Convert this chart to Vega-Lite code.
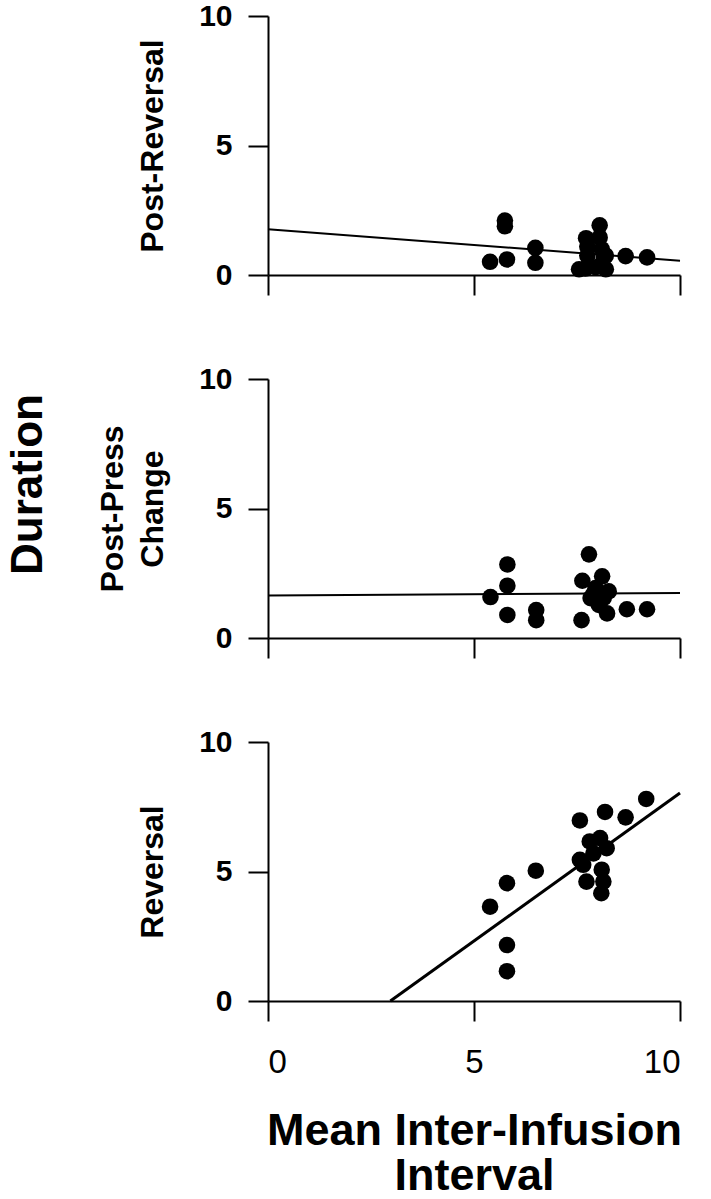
{
  "$schema": "https://vega.github.io/schema/vega-lite/v6.json",
  "background": "white",
  "padding": {"left": 6, "top": 1, "right": 5, "bottom": 3},
  "title": {"text": "Duration", "orient": "left", "anchor": "middle", "fontSize": 44, "fontWeight": "bold", "font": "Liberation Sans", "color": "black", "offset": 46, "dx": 115},
  "datasets": {
    "top_pts": [
      {"x": 5.39, "y": 0.51}, {"x": 5.8, "y": 0.6}, {"x": 5.75, "y": 2.1}, {"x": 5.75, "y": 1.88},
      {"x": 6.49, "y": 1.05}, {"x": 6.49, "y": 0.47}, {"x": 7.55, "y": 0.22}, {"x": 7.7, "y": 0.25},
      {"x": 7.75, "y": 1.1}, {"x": 7.72, "y": 1.42}, {"x": 7.75, "y": 0.75}, {"x": 7.95, "y": 0.3},
      {"x": 8.05, "y": 1.92}, {"x": 8.05, "y": 1.45}, {"x": 8.1, "y": 1.0}, {"x": 8.15, "y": 0.65},
      {"x": 8.2, "y": 0.22}, {"x": 8.2, "y": 0.75}, {"x": 8.68, "y": 0.73}, {"x": 9.2, "y": 0.68}
    ],
    "top_line": [{"x": 0, "y": 1.77}, {"x": 10, "y": 0.55}],
    "mid_pts": [
      {"x": 5.4, "y": 1.58}, {"x": 5.81, "y": 2.84}, {"x": 5.81, "y": 2.02}, {"x": 5.81, "y": 0.89},
      {"x": 6.51, "y": 1.08}, {"x": 6.51, "y": 0.69}, {"x": 7.61, "y": 0.69}, {"x": 7.79, "y": 3.23},
      {"x": 7.63, "y": 2.21}, {"x": 8.11, "y": 2.38}, {"x": 7.95, "y": 1.93}, {"x": 7.83, "y": 1.54},
      {"x": 8.27, "y": 1.8}, {"x": 8.03, "y": 1.28}, {"x": 8.23, "y": 0.95}, {"x": 7.9, "y": 1.7},
      {"x": 8.15, "y": 1.55}, {"x": 8.71, "y": 1.11}, {"x": 9.2, "y": 1.11}
    ],
    "mid_line": [{"x": 0, "y": 1.64}, {"x": 10, "y": 1.74}],
    "bot_pts": [
      {"x": 5.39, "y": 3.64}, {"x": 5.8, "y": 4.55}, {"x": 6.5, "y": 5.03}, {"x": 5.8, "y": 2.16},
      {"x": 5.8, "y": 1.15}, {"x": 7.57, "y": 6.97}, {"x": 8.18, "y": 7.3}, {"x": 8.68, "y": 7.09},
      {"x": 9.18, "y": 7.8}, {"x": 7.81, "y": 6.16}, {"x": 8.06, "y": 6.29}, {"x": 8.22, "y": 5.9},
      {"x": 7.57, "y": 5.45}, {"x": 8.1, "y": 5.07}, {"x": 7.65, "y": 5.26}, {"x": 7.73, "y": 4.61},
      {"x": 8.14, "y": 4.61}, {"x": 8.09, "y": 4.16}, {"x": 7.9, "y": 5.7}
    ],
    "bot_line": [{"x": 2.97, "y": 0}, {"x": 10, "y": 8.03}]
  },
  "spacing": 104,
  "bounds": "flush",
  "vconcat": [
    {
      "width": 412, "height": 259,
      "encoding": {
        "x": {"field": "x", "type": "quantitative", "scale": {"domain": [0, 10], "nice": false}, "axis": {"values": [0, 5, 10], "labels": false, "title": null}},
        "y": {"field": "y", "type": "quantitative", "scale": {"domain": [0, 10], "nice": false}, "axis": {"values": [0, 5, 10], "title": "Post-Reversal"}}
      },
      "layer": [
        {"data": {"name": "top_line"}, "mark": {"type": "line", "color": "black", "strokeWidth": 2}},
        {"data": {"name": "top_pts"}, "mark": {"type": "circle", "color": "black", "opacity": 1, "size": 275}}
      ]
    },
    {
      "width": 412, "height": 259,
      "encoding": {
        "x": {"field": "x", "type": "quantitative", "scale": {"domain": [0, 10], "nice": false}, "axis": {"values": [0, 5, 10], "labels": false, "title": null}},
        "y": {"field": "y", "type": "quantitative", "scale": {"domain": [0, 10], "nice": false}, "axis": {"values": [0, 5, 10], "title": ["Post-Press", "Change"]}}
      },
      "layer": [
        {"data": {"name": "mid_line"}, "mark": {"type": "line", "color": "black", "strokeWidth": 2}},
        {"data": {"name": "mid_pts"}, "mark": {"type": "circle", "color": "black", "opacity": 1, "size": 275}}
      ]
    },
    {
      "width": 412, "height": 259,
      "encoding": {
        "x": {"field": "x", "type": "quantitative", "scale": {"domain": [0, 10], "nice": false}, "axis": {"values": [0, 5, 10], "labels": true, "labelFontSize": 33, "labelFontWeight": "normal", "labelPadding": 25, "title": ["Mean Inter-Infusion", "Interval"], "titleFontSize": 45, "titleFontWeight": "bold", "titlePadding": 29, "titleLineHeight": 45}},
        "y": {"field": "y", "type": "quantitative", "scale": {"domain": [0, 10], "nice": false}, "axis": {"values": [0, 5, 10], "title": "Reversal"}}
      },
      "layer": [
        {"data": {"name": "bot_line"}, "mark": {"type": "line", "color": "black", "strokeWidth": 3}},
        {"data": {"name": "bot_pts"}, "mark": {"type": "circle", "color": "black", "opacity": 1, "size": 275}}
      ]
    }
  ],
  "config": {
    "font": "Liberation Sans",
    "view": {"stroke": null},
    "axis": {
      "grid": false,
      "domainColor": "black", "domainWidth": 2,
      "tickColor": "black", "tickWidth": 2, "tickSize": 20,
      "labelColor": "black", "labelFont": "Liberation Sans",
      "titleColor": "black", "titleFont": "Liberation Sans"
    },
    "axisY": {
      "labelFontSize": 30, "labelFontWeight": "bold", "labelPadding": 16,
      "titleFontSize": 32, "titleFontWeight": "bold", "titlePadding": 29, "titleLineHeight": 40
    }
  }
}
